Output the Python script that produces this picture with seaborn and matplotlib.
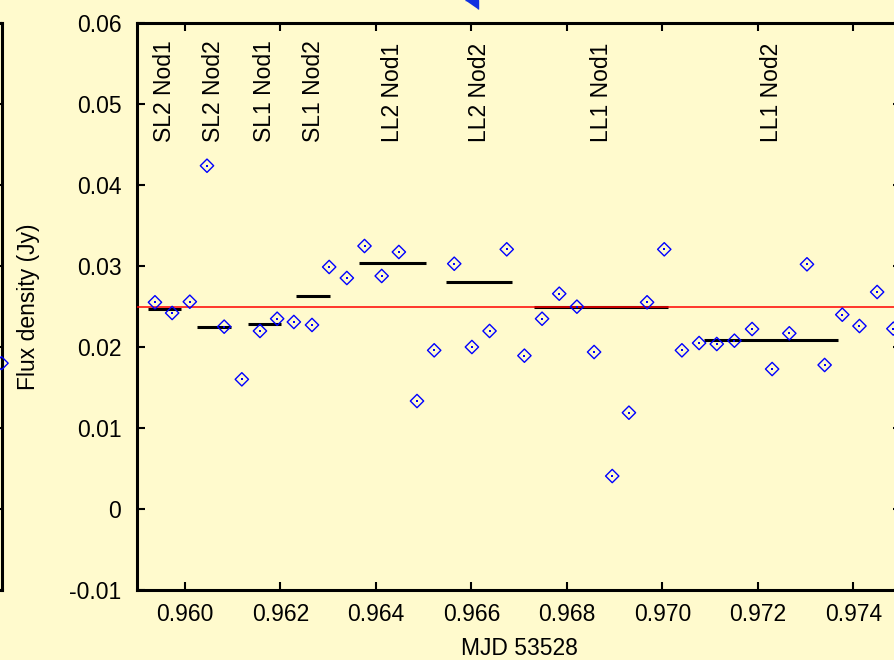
"""
IRS photometry light curve, one day segment (MJD 53528)
"""
import matplotlib
matplotlib.use("Agg")
import matplotlib.pyplot as plt
import seaborn as sns
import numpy as np

sns.set_theme(style="ticks")
plt.rcParams['font.family'] = ['Liberation Sans', 'DejaVu Sans']
plt.rcParams['axes.unicode_minus'] = False

BG = '#FFFACD'

# Photometry points (MJD - 53528, flux density in Jy)
mjd = [0.95937, 0.95973, 0.96010, 0.96046, 0.96082, 0.96119, 0.96157, 0.96193,
       0.96228, 0.96266, 0.96302, 0.96339, 0.96376, 0.96412, 0.96448, 0.96486,
       0.96522, 0.96564, 0.96601, 0.96638, 0.96674, 0.96711, 0.96748, 0.96784,
       0.96821, 0.96857, 0.96895, 0.96930, 0.96968, 0.97004, 0.97041, 0.97077,
       0.97114, 0.97151, 0.97188, 0.97230, 0.97266, 0.97303, 0.97340, 0.97377,
       0.97413, 0.97450, 0.97484]
flux = [0.02552, 0.02420, 0.02559, 0.04238, 0.02251, 0.01601, 0.02198, 0.02349,
        0.02309, 0.02272, 0.02988, 0.02852, 0.03247, 0.02877, 0.03173, 0.01333,
        0.01959, 0.03028, 0.02000, 0.02198, 0.03206, 0.01893, 0.02349, 0.02658,
        0.02498, 0.01938, 0.00407, 0.01189, 0.02552, 0.03206, 0.01959, 0.02049,
        0.02037, 0.02078, 0.02222, 0.01728, 0.02169, 0.03021, 0.01778, 0.02399,
        0.02259, 0.02679, 0.02226]

# Mean per module / nod position
seg_names = ['SL2 Nod1', 'SL2 Nod2', 'SL1 Nod1', 'SL1 Nod2',
             'LL2 Nod1', 'LL2 Nod2', 'LL1 Nod1', 'LL1 Nod2']
seg_start = [0.95922, 0.96025, 0.96132, 0.96233, 0.96365, 0.96546, 0.96732, 0.97088]
seg_end = [0.95992, 0.96096, 0.96201, 0.96304, 0.96505, 0.96686, 0.97011, 0.97368]
seg_flux = [0.02469, 0.02251, 0.02280, 0.02630, 0.03041, 0.02799, 0.02490, 0.02083]

overall_mean = 0.0250

# marks of the neighbouring panels that show at the edges
left_mjd = [0.975]
left_flux = [0.0180]
upper_mjd = [0.96614]
upper_flux = [0.06284]

xticks = [0.960, 0.962, 0.964, 0.966, 0.968, 0.970, 0.972, 0.974]
yticks = [-0.01, 0.0, 0.01, 0.02, 0.03, 0.04, 0.05, 0.06]
ytick_labels = ['-0.01', '0', '0.01', '0.02', '0.03', '0.04', '0.05', '0.06']

FS = 16.5
W, H = 894, 660

fig = plt.figure(figsize=(W / 100, H / 100), dpi=100, facecolor=BG)
left, right, top, bottom = 137.3, 901.0, 23.0, 590.0
ax = fig.add_axes([left / W, 1 - bottom / H, (right - left) / W, (bottom - top) / H])
ax0 = fig.add_axes([(1.5 - (right - left)) / W, 1 - bottom / H, (right - left) / W, (bottom - top) / H])

for a in (ax, ax0):
    a.set_facecolor(BG)
    a.set_xlim(0.959, 0.975)
    a.set_ylim(-0.01, 0.06)
    for s in a.spines.values():
        s.set_linewidth(2.2)
        s.set_color('black')
    a.tick_params(direction='in', length=5.8, width=1.5, top=True, right=True,
                  labelsize=FS, colors='black')
    a.set_xticks(xticks)
    a.set_yticks(yticks)

ax0.set_xticklabels([])
ax0.set_yticklabels([])
sns.scatterplot(x=left_mjd, y=left_flux, ax=ax0, marker='D', s=46,
                facecolors='none', edgecolor='blue', linewidth=1.0, clip_on=False, zorder=5)

# module means and overall mean
ax.hlines(seg_flux, seg_start, seg_end, color='black', linewidth=2.2, zorder=2)
ax.axhline(overall_mean, color='red', linewidth=1.1, zorder=3)

sns.scatterplot(x=mjd, y=flux, ax=ax, marker='D', s=46, facecolors='none',
                edgecolor='blue', linewidth=1.0, zorder=4)
sns.scatterplot(x=mjd, y=flux, ax=ax, marker='s', s=1.5, color='blue',
                linewidth=0, zorder=5)

# piece of the panel above
tri = [(-1, 0), (0, 0), (0, -0.7)]
ax.plot(upper_mjd, upper_flux, linestyle='none', marker=tri, markersize=18.8,
        color='#1030e0', clip_on=False, zorder=6)

for name, a, b in zip(seg_names, seg_start, seg_end):
    ax.text((a + b) / 2, 0.0453, name, rotation=90, ha='center', va='bottom',
            fontsize=FS, color='black')

ax.set_xticklabels([f"{v:.3f}" for v in xticks])
ax.set_yticklabels(ytick_labels)
ax.tick_params(axis='x', pad=9.5)
ax.tick_params(axis='y', pad=11.5)
ax.set_xlabel('MJD 53528', fontsize=FS, labelpad=8, color='black')
ax.set_ylabel('Flux density (Jy)', fontsize=FS, labelpad=21, color='black')

fig.savefig("out.png", dpi=100, facecolor=BG)
